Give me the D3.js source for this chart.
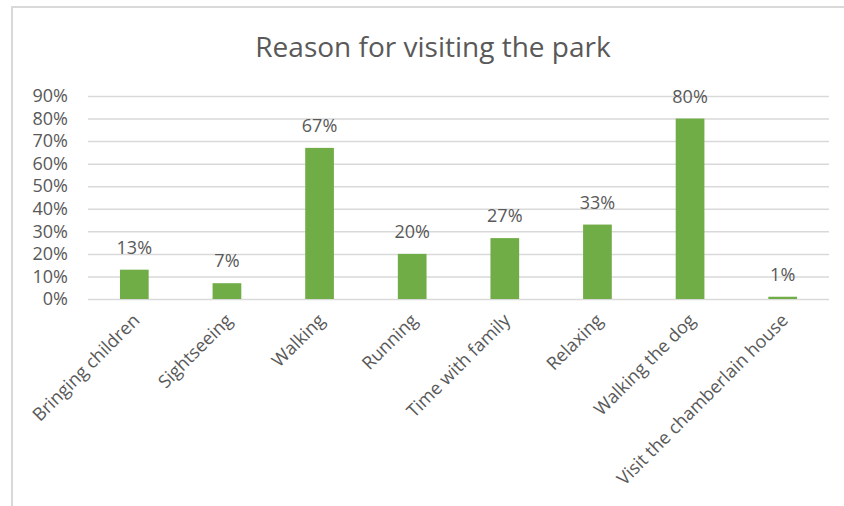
<!DOCTYPE html>
<html>
<head>
<meta charset="utf-8">
<script src="https://cdn.jsdelivr.net/npm/d3@7"></script>
<style>
  body { margin: 0; background: #fff; }
  svg { display: block; font-family: "Open Sans", sans-serif; }
</style>
</head>
<body>
<svg width="844" height="506"></svg>
<script>
const categories = ["Bringing children", "Sightseeing", "Walking", "Running",
  "Time with family", "Relaxing", "Walking the dog", "Visit the chamberlain house"];
const values = [13, 7, 67, 20, 27, 33, 80, 1];
const yTicks = [0, 10, 20, 30, 40, 50, 60, 70, 80, 90];
const title = "Reason for visiting the park";

const svg = d3.select('svg');
const width = +svg.attr('width');
const height = +svg.attr('height');

const margin = { top: 96, right: 15, bottom: 207, left: 88 };
const innerWidth = width - margin.left - margin.right;
const innerHeight = height - margin.top - margin.bottom;

// chart frame (only left and top edges are visible in the crop)
svg.append('path')
  .attr('d', `M12,${height} L12,7 L${width},7`)
  .attr('fill', 'none')
  .attr('stroke', '#d9d9d9')
  .attr('stroke-width', 2);

svg.append('text')
  .attr('x', 433)
  .attr('y', 57)
  .attr('text-anchor', 'middle')
  .attr('fill', '#595959')
  .attr('font-size', 28)
  .text(title);

const g = svg.append('g')
  .attr('transform', `translate(${margin.left},${margin.top})`);

const xS = d3.scaleBand()
  .domain(categories)
  .range([0, innerWidth])
  .paddingInner(0.69)
  .paddingOuter(0.345);

const yS = d3.scaleLinear()
  .domain([0, 90])
  .range([innerHeight, 0]);

const yAxis = d3.axisLeft(yS)
  .tickValues(yTicks)
  .tickSize(-innerWidth)
  .tickPadding(20)
  .tickFormat(d => d + '%');

const yag = g.append('g').call(yAxis);
yag.select('.domain').remove();
yag.selectAll('line').attr('stroke', '#d9d9d9').attr('stroke-width', 1.5);
yag.selectAll('text')
  .attr('fill', '#595959')
  .attr('font-size', 18)
  .attr('font-family', '"Open Sans", sans-serif');

g.selectAll('rect.bar')
  .data(values)
  .enter()
  .append('rect')
  .attr('class', 'bar')
  .attr('x', (d, i) => xS(categories[i]))
  .attr('y', d => yS(d))
  .attr('width', xS.bandwidth())
  .attr('height', d => innerHeight - yS(d))
  .attr('fill', '#70AD47');

g.selectAll('text.val')
  .data(values)
  .enter()
  .append('text')
  .attr('class', 'val')
  .attr('x', (d, i) => xS(categories[i]) + xS.bandwidth() / 2)
  .attr('y', d => yS(d) - 16)
  .attr('text-anchor', 'middle')
  .attr('fill', '#595959')
  .attr('font-size', 18)
  .text(d => d + '%');

g.selectAll('text.cat')
  .data(categories)
  .enter()
  .append('text')
  .attr('class', 'cat')
  .attr('transform', d => `translate(${xS(d) + xS.bandwidth() / 2 + 2},${innerHeight + 18}) rotate(-45)`)
  .attr('text-anchor', 'end')
  .attr('dy', '0.35em')
  .attr('fill', '#595959')
  .attr('font-size', 18)
  .text(d => d);
</script>
</body>
</html>
